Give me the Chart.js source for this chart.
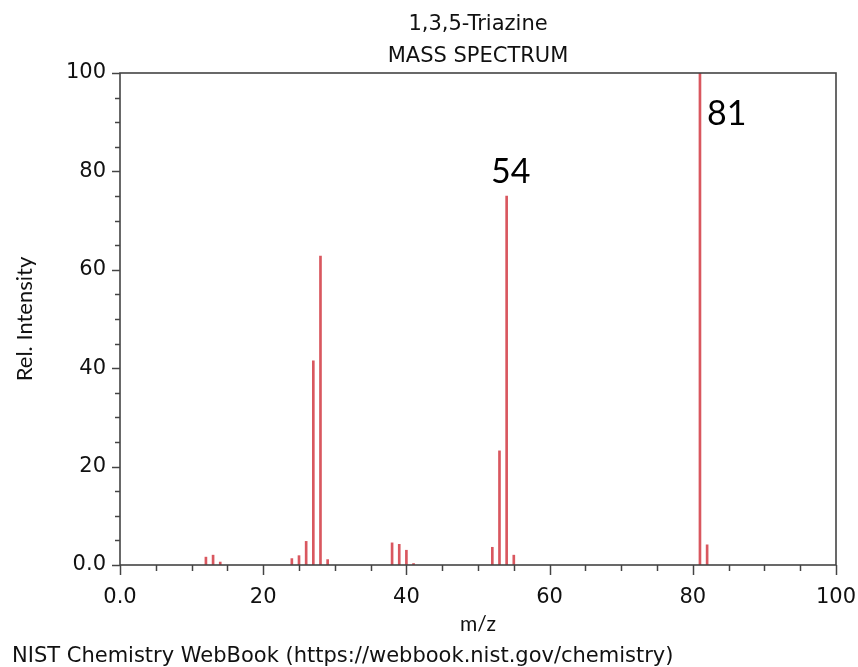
<!DOCTYPE html>
<html>
<head>
<meta charset="utf-8">
<script src="https://cdn.jsdelivr.net/npm/chart.js@4.4.1/dist/chart.umd.min.js"></script>
<style>
  html, body { margin: 0; padding: 0; background: #ffffff; }
  #wrap { width: 858px; height: 667px; }
</style>
</head>
<body>
<div id="wrap"><canvas id="c" width="858" height="667"></canvas></div>
<script>
// ---- data ----
const mz        = [12, 13, 14, 24, 25, 26, 27, 28, 29, 38, 39, 40, 41, 52, 53, 54, 55, 81, 82];
const intensity = [1.6, 2.0, 0.6, 1.3, 1.9, 4.8, 41.5, 62.8, 1.1, 4.5, 4.2, 3.0, 0.3, 3.6, 23.2, 75.0, 2.0, 100, 4.1];
const xTickValues = [0, 20, 40, 60, 80, 100];
const xTickLabels = ["0.0", "20", "40", "60", "80", "100"];
const yTickValues = [0, 20, 40, 60, 80, 100];
const yTickLabels = ["0.0", "20", "40", "60", "80", "100"];
const labelledPeaks = [54, 81];
const titleLines = ["1,3,5-Triazine", "MASS SPECTRUM"];
const footerText = "NIST Chemistry WebBook (https://webbook.nist.gov/chemistry)";

const DV = "'DejaVu Sans', sans-serif";
const LATO = "Lato, 'Open Sans', sans-serif";

const decorPlugin = {
  id: 'decor',
  afterDraw(chart) {
    const ctx = chart.ctx;
    const a = chart.chartArea;
    const xs = chart.scales.x, ys = chart.scales.y;
    ctx.save();
    // frame
    ctx.strokeStyle = '#444';
    ctx.lineWidth = 1.6;
    ctx.strokeRect(a.left, a.top, a.right - a.left, a.bottom - a.top);
    // ticks (major every 20, minor every 5)
    ctx.lineWidth = 1.5;
    for (let v = 0; v <= 100; v += 5) {
      const major = xTickValues.includes(v);
      const len = major ? 10 : 6;
      const px = Math.round(xs.getPixelForValue(v)) + 0.5;
      ctx.beginPath(); ctx.moveTo(px, a.bottom); ctx.lineTo(px, a.bottom + len); ctx.stroke();
    }
    for (let v = 0; v <= 100; v += 5) {
      const major = yTickValues.includes(v);
      const len = major ? 8 : 5;
      const py = Math.round(ys.getPixelForValue(v)) + 0.5;
      ctx.beginPath(); ctx.moveTo(a.left, py); ctx.lineTo(a.left - len, py); ctx.stroke();
    }
    // title
    ctx.fillStyle = '#111';
    ctx.font = "21px " + DV;
    ctx.textAlign = 'center';
    ctx.textBaseline = 'alphabetic';
    const cx = (a.left + a.right) / 2;
    ctx.fillText(titleLines[0], cx, 30);
    ctx.fillText(titleLines[1], cx, 62);
    // footer
    ctx.textAlign = 'left';
    ctx.font = "21px " + DV;
    ctx.fillText(footerText, 12, 662);
    // peak labels
    ctx.font = "34px " + LATO;
    ctx.fillStyle = '#000';
    labelledPeaks.forEach((m, k) => {
      const i = mz.indexOf(m);
      const px = xs.getPixelForValue(m);
      const py = ys.getPixelForValue(intensity[i]);
      ctx.textBaseline = 'alphabetic';
      if (k === 0) {
        ctx.textAlign = 'center';
        ctx.fillText(String(m), px + 4, py - 13);
      } else {
        ctx.textAlign = 'left';
        ctx.fillText(String(m), px + 7, py + 52);
      }
    });
    ctx.restore();
  }
};

new Chart(document.getElementById('c'), {
  type: 'bar',
  data: {
    datasets: [{
      data: mz.map((m, i) => ({ x: m, y: intensity[i] })),
      backgroundColor: '#d9575f',
      borderWidth: 0,
      barThickness: 2
    }]
  },
  options: {
    responsive: false,
    animation: false,
    devicePixelRatio: 1,
    layout: { padding: { top: 73, right: 22, bottom: 28, left: 0 } },
    plugins: { legend: { display: false }, tooltip: { enabled: false }, title: { display: false } },
    scales: {
      x: {
        type: 'linear', min: 0, max: 100, offset: false,
        grid: { display: false, drawTicks: false },
        border: { display: false },
        afterFit: s => { s.height = 74; s.paddingLeft = 0; s.paddingRight = 0; },
        ticks: {
          stepSize: 5, autoSkip: false, maxRotation: 0, padding: 20,
          color: '#111', font: { family: DV, size: 21 },
          callback: v => { const k = xTickValues.indexOf(v); return k >= 0 ? xTickLabels[k] : ''; }
        },
        title: { display: true, text: 'm/z', color: '#111', font: { family: LATO, size: 21 }, padding: { top: 0, bottom: 2 } }
      },
      y: {
        min: 0, max: 100,
        grid: { display: false, drawTicks: false },
        border: { display: false },
        afterFit: s => { s.width = 120; s.paddingTop = 0; s.paddingBottom = 0; },
        ticks: {
          stepSize: 5, autoSkip: false, padding: 14,
          color: '#111', font: { family: DV, size: 21 },
          callback: v => { const k = yTickValues.indexOf(v); return k >= 0 ? yTickLabels[k] : ''; }
        },
        title: { display: true, text: 'Rel. Intensity', color: '#111', font: { family: LATO, size: 22 }, padding: { top: 12, bottom: 0 } }
      }
    }
  },
  plugins: [decorPlugin]
});
</script>
</body>
</html>
